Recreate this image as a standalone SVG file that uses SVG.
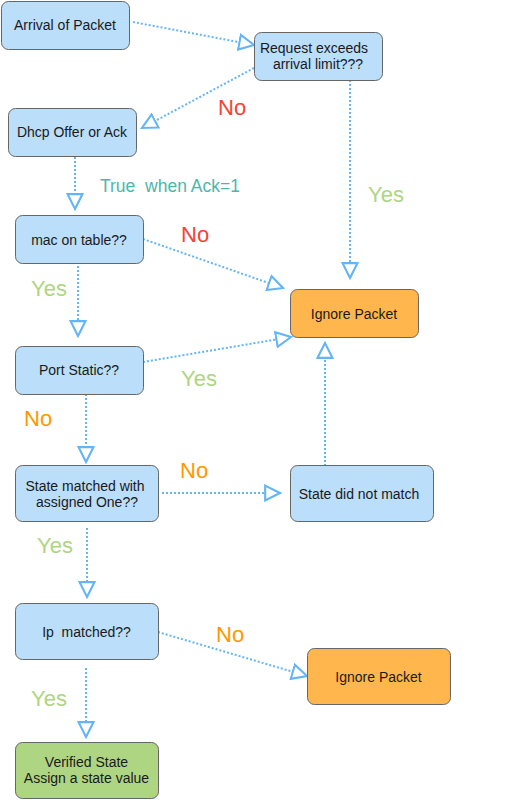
<svg xmlns="http://www.w3.org/2000/svg" width="517" height="800" viewBox="0 0 517 800">
<style>
.box{stroke:#666666;stroke-width:1}
.blue{fill:#BBDEFB}
.orange{fill:#FFB74D}
.green{fill:#AED581}
.t{font-family:"Liberation Sans",Arial,sans-serif;font-size:14px;fill:#1a1a1a;text-anchor:middle}
.lbl{font-family:"Liberation Sans",Arial,sans-serif;font-size:22px}
.red{fill:#F44336}
.org{fill:#FF9800}
.grn{fill:#AED581}
.teal{fill:#4DB6AC}
.edge{fill:none;stroke:#64B5F6;stroke-width:2;stroke-dasharray:2 2;marker-end:url(#arr)}
</style>
<defs>
<marker id="arr" markerUnits="userSpaceOnUse" markerWidth="18" markerHeight="18" viewBox="0 0 17 16" refX="15" refY="8" orient="auto">
<path d="M1,1 L15,8 L1,15 Z" fill="#ffffff" stroke="#64B5F6" stroke-width="2" stroke-dasharray="none"/>
</marker>
</defs>
<rect width="517" height="800" fill="#ffffff"/>
<g id="connectors">
<path class="edge" d="M133,22 L254,45"/>
<path class="edge" d="M254,68 L142,128"/>
<path class="edge" d="M350,80 L350,278"/>
<path class="edge" d="M75,157 L75,209"/>
<path class="edge" d="M143,239 L283,288"/>
<path class="edge" d="M78,266 L78,336"/>
<path class="edge" d="M143,362 L291,337"/>
<path class="edge" d="M86,394 L86,462"/>
<path class="edge" d="M325,466 L325,343"/>
<path class="edge" d="M162,493 L280,493"/>
<path class="edge" d="M87,528 L87,597"/>
<path class="edge" d="M158,632 L307,676"/>
<path class="edge" d="M86,668 L86,737"/>
</g>
<g id="n1"><rect class="box blue" x="1.5" y="1.5" width="128" height="48" rx="7"/><text class="t" x="65" y="30">Arrival of Packet</text></g>
<g id="n2"><rect class="box blue" x="254.5" y="32.5" width="128" height="48" rx="7"/><text class="t" x="314" y="53">Request exceeds</text><text class="t" x="318" y="69">arrival limit???</text></g>
<g id="n3"><rect class="box blue" x="8.5" y="108.5" width="128" height="48" rx="7"/><text class="t" x="72" y="137">Dhcp Offer or Ack</text></g>
<g id="n4"><rect class="box blue" x="15.5" y="215.5" width="128" height="48" rx="7"/><text class="t" x="79" y="245">mac on table??</text></g>
<g id="n5"><rect class="box orange" x="290.5" y="289.5" width="128" height="48" rx="7"/><text class="t" x="354" y="319">Ignore Packet</text></g>
<g id="n6"><rect class="box blue" x="15.5" y="346.5" width="128" height="48" rx="7"/><text class="t" x="79" y="375">Port Static??</text></g>
<g id="n7"><rect class="box blue" x="15.5" y="465.5" width="143" height="56" rx="7"/><text class="t" x="85" y="491">State matched with</text><text class="t" x="87" y="507">assigned One??</text></g>
<g id="n8"><rect class="box blue" x="290.5" y="465.5" width="143" height="56" rx="7"/><text class="t" x="359" y="499">State did not match</text></g>
<g id="n9"><rect class="box blue" x="15.5" y="603.5" width="143" height="56" rx="7"/><text class="t" x="86.5" y="637" xml:space="preserve">Ip  matched??</text></g>
<g id="n10"><rect class="box orange" x="307.5" y="648.5" width="143" height="56" rx="7"/><text class="t" x="378.5" y="682">Ignore Packet</text></g>
<g id="n11"><rect class="box green" x="15.5" y="742.5" width="143" height="56" rx="7"/><text class="t" x="86.5" y="767">Verified State</text><text class="t" x="86.5" y="783">Assign a state value</text></g>
<g id="labels">
<text class="lbl red" x="218" y="115">No</text>
<text class="lbl teal" x="100" y="192" style="font-size:17.5px" xml:space="preserve">True  when Ack=1</text>
<text class="lbl grn" x="368" y="202">Yes</text>
<text class="lbl red" x="181" y="242">No</text>
<text class="lbl grn" x="31" y="296">Yes</text>
<text class="lbl grn" x="181" y="386">Yes</text>
<text class="lbl org" x="24" y="426">No</text>
<text class="lbl org" x="180" y="478">No</text>
<text class="lbl grn" x="37" y="553">Yes</text>
<text class="lbl org" x="216" y="642">No</text>
<text class="lbl grn" x="31" y="706">Yes</text>
</g>
</svg>
